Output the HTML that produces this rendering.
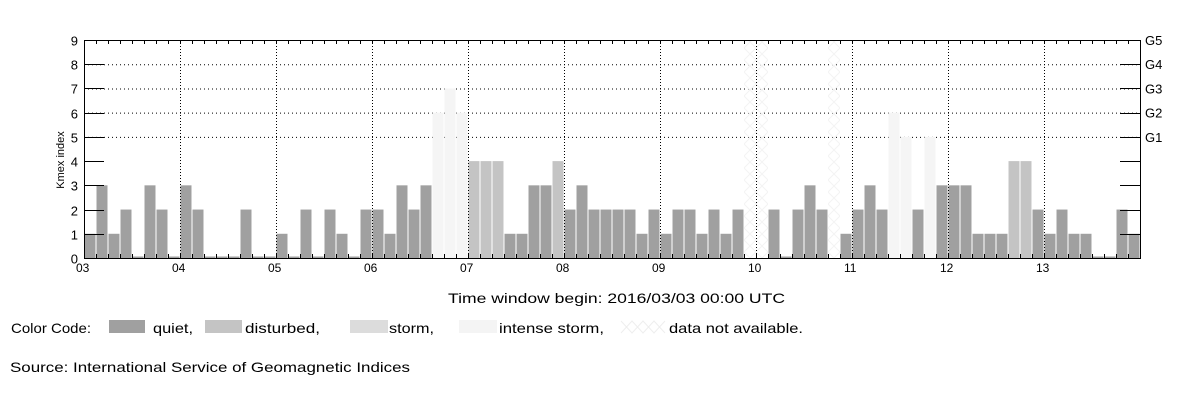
<!DOCTYPE html>
<html><head><meta charset="utf-8"><style>
html,body{margin:0;padding:0;background:#fff;}
svg{display:block;font-family:"Liberation Sans",sans-serif;}
</style></head><body>
<svg id="chart" width="1200" height="400" viewBox="0 0 1200 400">
<defs>
<pattern id="na" width="12" height="12" patternUnits="userSpaceOnUse">
<path d="M0 0L12 12M12 0L0 12" stroke="#f3f3f3" stroke-width="1"/>
</pattern>
</defs>
<g id="grid"></g>
<g id="bars"></g>
<g id="axes"></g>
<text x="448" y="303" font-size="14" textLength="337" lengthAdjust="spacingAndGlyphs">Time window begin: 2016/03/03 00:00 UTC</text>
<g font-size="14">
<text x="11" y="333" textLength="80" lengthAdjust="spacingAndGlyphs">Color Code:</text>
<rect x="109" y="320" width="36" height="13" fill="#a0a0a0"/>
<text x="153" y="333" textLength="40" lengthAdjust="spacingAndGlyphs">quiet,</text>
<rect x="205" y="320" width="37" height="13" fill="#c4c4c4"/>
<text x="245" y="333" textLength="75" lengthAdjust="spacingAndGlyphs">disturbed,</text>
<rect x="350" y="320" width="38" height="13" fill="#dcdcdc"/>
<text x="389" y="333" textLength="45" lengthAdjust="spacingAndGlyphs">storm,</text>
<rect x="459" y="320" width="38" height="13" fill="#f4f4f4"/>
<text x="499" y="333" textLength="105" lengthAdjust="spacingAndGlyphs">intense storm,</text>
<path d="M621 333L632 321L643 333L654 321L665 333M621 321L632 333L643 321L654 333L665 321" stroke="#eee" fill="none"/>
<text x="669" y="333" textLength="134" lengthAdjust="spacingAndGlyphs">data not available.</text>
</g>
<text x="10" y="372" font-size="14" textLength="400" lengthAdjust="spacingAndGlyphs">Source: International Service of Geomagnetic Indices</text>
</svg>
<script>
const dayLabels = ["03","04","05","06","07","08","09","10","11","12","13"];
const yTicks = [0,1,2,3,4,5,6,7,8,9];
const gLabels = ["G1","G2","G3","G4","G5"];
// Kmex values per 3-hour bin; null = data not available
const kmex = [
 1,3,1,2,0,3,2,0,
 3,2,0,0,0,2,0,0,
 1,0,2,0,2,1,0,2,
 2,1,3,2,3,6,7,6,
 4,4,4,1,1,3,3,4,
 2,3,2,2,2,2,1,2,
 1,2,2,1,2,1,2,null,
 null,2,0,2,3,2,null,1,
 2,3,2,6,5,2,5,3,
 3,3,1,1,1,4,4,2,
 1,2,1,1,0,0,2,1
];
const NS="http://www.w3.org/2000/svg";
const X0=84, X1=1140, Y0=258, Y9=40;
const nBins=dayLabels.length*8;
const bw=(X1-X0)/nBins;
function xs(i){return X0+i*bw;}
function ys(v){return Y0-(Y0-Y9)*v/9;}
function mk(tag,attrs,parent){const e=document.createElementNS(NS,tag);for(const k in attrs)e.setAttribute(k,attrs[k]);parent.appendChild(e);return e;}
function color(v){return v>=5?"#f5f5f5":v>=4?"#c4c4c4":"#a0a0a0";}
const grid=document.getElementById("grid"),bars=document.getElementById("bars"),axes=document.getElementById("axes");
kmex.forEach((v,i)=>{
  let r;
  if(v===null){
    r=mk("rect",{x:xs(i),y:Y9,width:bw,height:Y0-Y9,fill:"url(#na)"},bars);
    
    
    return;
  }
  const h=Math.max(Y0-ys(v),1.5);
  r=mk("rect",{x:xs(i)+0.5,y:Y0-h,width:bw-1,height:h,fill:color(v)},bars);
  
  
});
[5,6,7,8].forEach(v=>{
  const l=mk("line",{x1:X0,x2:X1,y1:ys(v)+0.5,y2:ys(v)+0.5,stroke:"#000","stroke-dasharray":"1,3"},grid);
  
  
});
dayLabels.forEach((d,k)=>{
  if(k===0)return;
  const x=Math.round(xs(k*8))+0.5;
  const l=mk("line",{x1:x,x2:x,y1:Y9,y2:Y0,stroke:"#000","stroke-dasharray":"1,2"},axes);
  
  
});
const fr=mk("rect",{x:X0+0.5,y:Y9+0.5,width:X1-X0,height:Y0-Y9,fill:"none",stroke:"#000"},axes);


for(let i=1;i<nBins;i++){
  const x=Math.round(xs(i))+0.5;
  mk("line",{x1:x,x2:x,y1:Y9,y2:Y9+4,stroke:"#000"},axes);
  mk("line",{x1:x,x2:x,y1:Y0,y2:Y0-4,stroke:"#000"},axes);
}
yTicks.forEach(v=>{
  const y=Math.round(ys(v))+0.5;
  mk("line",{x1:X0,x2:X0+20,y1:y,y2:y,stroke:"#000"},axes);
  mk("line",{x1:X1-20,x2:X1,y1:y,y2:y,stroke:"#000"},axes);
  const t=mk("text",{x:X0-6,y:y+5,"font-size":"13","text-anchor":"end"},axes);
  t.textContent=v;
  
  
});
gLabels.forEach((g,k)=>{
  const t=mk("text",{x:X1+5,y:ys(5+k)+5,"font-size":"13"},axes);
  t.textContent=g;
  
  
});
dayLabels.forEach((d,k)=>{
  const t=mk("text",{x:xs(k*8)-8,y:Y0+14,"font-size":"12"},axes);
  t.textContent=d;
  
  
});
const yt=mk("text",{x:0,y:0,"font-size":"11","text-anchor":"middle",transform:"translate(64,160) rotate(-90)"},axes);
yt.textContent="Kmex index";


</script>
</body></html>
